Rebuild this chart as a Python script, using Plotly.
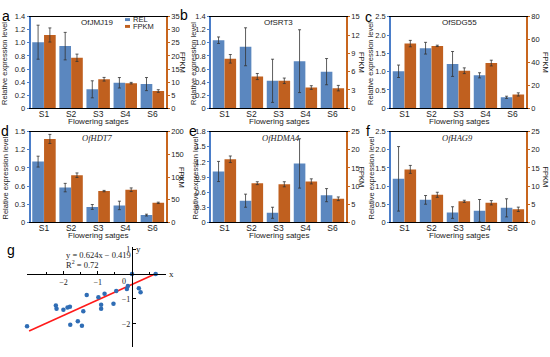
import plotly.graph_objects as go

W, H = 550, 357

# ---------------- data ----------------
stages = ["S1", "S2", "S3", "S4", "S6"]
genes = ["OfJMJ19", "OfSRT3", "OfSDG55", "OfHDT7", "OfHDMA4", "OfHAG9"]
panel_letters = ["a", "b", "c", "d", "e", "f"]

rel_JMJ19 = [1.01, 0.95, 0.29, 0.39, 0.37]
rel_JMJ19_err = [0.26, 0.21, 0.13, 0.08, 0.10]
fpkm_JMJ19 = [28.0, 19.3, 11.1, 9.6, 6.6]
fpkm_JMJ19_err = [2.7, 1.4, 0.7, 0.3, 0.5]

rel_SRT3 = [1.04, 0.94, 0.42, 0.72, 0.56]
rel_SRT3_err = [0.05, 0.29, 0.33, 0.48, 0.20]
fpkm_SRT3 = [8.1, 5.2, 4.5, 3.4, 3.3]
fpkm_SRT3_err = [0.7, 0.5, 0.45, 0.3, 0.45]

rel_SDG55 = [1.01, 1.64, 1.21, 0.90, 0.30]
rel_SDG55_err = [0.17, 0.16, 0.34, 0.07, 0.03]
fpkm_SDG55 = [56.5, 54.5, 32.8, 39.5, 12.1]
fpkm_SDG55_err = [2.8, 0.6, 2.5, 2.5, 1.4]

rel_HDT7 = [1.005, 0.575, 0.255, 0.28, 0.12]
rel_HDT7_err = [0.09, 0.07, 0.04, 0.07, 0.015]
fpkm_HDT7 = [184, 104, 69, 72, 43]
fpkm_HDT7_err = [10, 5, 1.5, 4, 1.5]

rel_HDMA4 = [1.01, 0.43, 0.19, 1.17, 0.54]
rel_HDMA4_err = [0.20, 0.13, 0.11, 0.49, 0.13]
fpkm_HDMA4 = [17.4, 10.8, 10.5, 11.3, 6.5]
fpkm_HDMA4_err = [0.9, 0.4, 0.7, 0.7, 0.5]

rel_HAG9 = [1.20, 0.62, 0.27, 0.32, 0.40]
rel_HAG9_err = [0.89, 0.12, 0.16, 0.31, 0.25]
fpkm_HAG9 = [14.6, 7.6, 5.8, 5.4, 3.6]
fpkm_HAG9_err = [1.1, 0.7, 0.3, 0.6, 0.6]

# tick labels
left_ticks_a = ["0", "0.2", "0.4", "0.6", "0.8", "1.0", "1.2", "1.4"]
left_ticks_b = ["0", "0.2", "0.4", "0.6", "0.8", "1.0", "1.2", "1.4"]
left_ticks_c = ["0", "0.5", "1.0", "1.5", "2.0", "2.5"]
left_ticks_d = ["0", "0.3", "0.6", "0.9", "1.2", "1.5"]
left_ticks_e = ["0", "0.3", "0.6", "0.9", "1.2", "1.5", "1.8"]
left_ticks_f = ["0", "0.5", "1.0", "1.5", "2.0", "2.5"]
right_ticks_a = [0, 5, 10, 15, 20, 25, 30, 35]
right_ticks_b = [0, 3, 6, 9, 12, 15]
right_ticks_c = [0, 20, 40, 60, 80]
right_ticks_d = [0, 50, 100, 150, 200]
right_ticks_e = [0, 5, 10, 15, 20, 25]
right_ticks_f = [0, 5, 10, 15, 20, 25]

# scatter panel g
sx = [-3.06, -2.22, -2.20, -2.00, -1.88, -1.81, -1.80, -1.58, -1.46, -1.42, -1.32,
      -0.98, -0.90, -0.90, -0.80, -0.54, -0.46, -0.15, -0.12, 0.0, 0.20, 0.25, 0.69]
sy = [-2.10, -1.27, -1.40, -1.44, -1.35, -1.32, -2.04, -1.90, -2.08, -1.50, -0.84,
      -0.93, -1.24, -1.40, -0.79, -1.20, -0.68, -0.60, -0.48, 0.0, -0.57, -0.73, 0.0]
fit_slope, fit_intercept = 0.624, -0.419
fit_x = [-3.0, 0.72]
scatter_xticks = [-2, -1, 1]
scatter_xticklabels = ["\u22122", "\u22121", "1"]
scatter_yticks = [1, -1, -2]
scatter_yticklabels = ["1", "\u22121", "\u22122"]

panels = [
    (rel_JMJ19, rel_JMJ19_err, fpkm_JMJ19, fpkm_JMJ19_err, left_ticks_a, right_ticks_a),
    (rel_SRT3, rel_SRT3_err, fpkm_SRT3, fpkm_SRT3_err, left_ticks_b, right_ticks_b),
    (rel_SDG55, rel_SDG55_err, fpkm_SDG55, fpkm_SDG55_err, left_ticks_c, right_ticks_c),
    (rel_HDT7, rel_HDT7_err, fpkm_HDT7, fpkm_HDT7_err, left_ticks_d, right_ticks_d),
    (rel_HDMA4, rel_HDMA4_err, fpkm_HDMA4, fpkm_HDMA4_err, left_ticks_e, right_ticks_e),
    (rel_HAG9, rel_HAG9_err, fpkm_HAG9, fpkm_HAG9_err, left_ticks_f, right_ticks_f),
]

# ---------------- styling ----------------
BLUE = "#5b87bf"
ORANGE = "#c0601f"
BLUE_AX = "#4a7dc9"
ORANGE_AX = "#c8661e"
SANS = "Liberation Sans, Arial, sans-serif"
SERIF = "Liberation Serif, Times New Roman, serif"
TXT = "#222222"


def fx(p):
    return p / W


def fy(p):
    return 1 - p / H


cols = [(30.5, 166), (211, 346), (391, 526)]
rows = [(13, 107), (131, 224)]
letter_pos = [(5.5, 12.5), (184, 11.5), (368, 13), (5, 130), (193, 130.5), (368, 130.5)]
title_xpos = [97, 278, 460, 97, 281, 457]
rel_label_x = [4.5, 193.5, 370.5, 4.5, 194.5, 370.5]
fpkm_label_x = [182.5, 361.5, 545.5, 182, 361.5, 545.5]

fig = go.Figure()
layout = dict(
    width=W, height=H, margin=dict(l=0, r=0, t=0, b=0),
    paper_bgcolor="white", plot_bgcolor="rgba(0,0,0,0)",
    barmode="overlay", showlegend=False,
    font=dict(family=SANS, color=TXT),
)
annotations = []
shapes = []

for k, (rel, rel_err, fp, fp_err, lticks, rticks) in enumerate(panels):
    c, r = cols[k % 3], rows[k // 3]
    xn = k + 1
    yl = 2 * k + 1
    yr = 2 * k + 2
    xid = "x" if xn == 1 else f"x{xn}"
    ylid = "y" if yl == 1 else f"y{yl}"
    yrid = f"y{yr}"
    xkey = "xaxis" if xn == 1 else f"xaxis{xn}"
    ylkey = "yaxis" if yl == 1 else f"yaxis{yl}"
    yrkey = f"yaxis{yr}"
    lvals = [float(t) for t in lticks]
    layout[xkey] = dict(
        domain=[fx(c[0]), fx(c[1])], anchor=ylid, type="category",
        categoryorder="array", categoryarray=stages, range=[-0.5, 4.5],
        showline=True, linecolor="black", linewidth=1.3, mirror=True,
        ticks="", ticklabelstandoff=-3, showgrid=False, zeroline=False,
        tickfont=dict(size=8.5, family=SANS, color=TXT),
    )
    layout[ylkey] = dict(
        domain=[fy(r[1]), fy(r[0])], anchor=xid, range=[0, lvals[-1]],
        tickvals=lvals, ticktext=lticks, ticks="outside", ticklen=2,
        tickcolor=BLUE_AX, showline=True, linecolor=BLUE_AX, linewidth=1.5,
        showgrid=False, zeroline=False,
        tickfont=dict(size=7.5, family=SANS, color=TXT),
    )
    layout[yrkey] = dict(
        domain=[fy(r[1]), fy(r[0])], anchor=xid, overlaying=ylid, side="right",
        range=[0, rticks[-1]], tickvals=rticks, ticks="outside", ticklen=2,
        tickcolor=ORANGE_AX, showline=True, linecolor=ORANGE_AX, linewidth=1.5,
        showgrid=False, zeroline=False,
        tickfont=dict(size=7.5, family=SANS, color=TXT),
    )
    fig.add_trace(go.Bar(
        x=stages, y=rel, xaxis=xid, yaxis=ylid, name="REL",
        marker=dict(color=BLUE, line=dict(width=0)), width=0.43, offset=-0.435,
        error_y=dict(type="data", array=rel_err, color="#333333", thickness=0.8, width=1.5),
    ))
    fig.add_trace(go.Bar(
        x=stages, y=fp, xaxis=xid, yaxis=yrid, name="FPKM",
        marker=dict(color=ORANGE, line=dict(width=0)), width=0.43, offset=0.0,
        error_y=dict(type="data", array=fp_err, color="#333333", thickness=0.8, width=1.5),
    ))
    cx = (c[0] + c[1]) / 2
    italic = k >= 3
    annotations.append(dict(
        x=fx(title_xpos[k]), y=fy(r[0] + 6), xref="paper", yref="paper",
        text=(f"<i>{genes[k]}</i>" if italic else genes[k]), showarrow=False,
        font=dict(size=8.5 if italic else 8, family=SERIF if italic else SANS, color=TXT),
        xanchor="center", yanchor="middle",
    ))
    annotations.append(dict(
        x=fx(cx), y=fy(r[1] + 13.5), xref="paper", yref="paper",
        text="Flowering satges", showarrow=False,
        font=dict(size=8, family=SANS, color=TXT), xanchor="center", yanchor="middle",
    ))
    annotations.append(dict(
        x=fx(rel_label_x[k]), y=fy((r[0] + r[1]) / 2 + 1), xref="paper", yref="paper",
        text="Relative expression level", showarrow=False, textangle=-90,
        font=dict(size=7.5, family=SANS, color=TXT), xanchor="center", yanchor="middle",
    ))
    annotations.append(dict(
        x=fx(fpkm_label_x[k]), y=fy((r[0] + r[1]) / 2), xref="paper", yref="paper",
        text="FPKM", showarrow=False, textangle=90,
        font=dict(size=7.5, family=SANS, color=TXT), xanchor="center", yanchor="middle",
    ))
    lx, ly = letter_pos[k]
    annotations.append(dict(
        x=fx(lx), y=fy(ly), xref="paper", yref="paper", text=panel_letters[k],
        showarrow=False, font=dict(size=14, family=SANS, color="black"),
        xanchor="center", yanchor="middle",
    ))

# legend (panel a)
shapes.append(dict(type="rect", xref="paper", yref="paper",
                   x0=fx(125), x1=fx(130), y0=fy(17.5), y1=fy(14.5),
                   fillcolor=BLUE, line=dict(width=0)))
shapes.append(dict(type="rect", xref="paper", yref="paper",
                   x0=fx(125), x1=fx(130), y0=fy(24.5), y1=fy(21.5),
                   fillcolor=ORANGE, line=dict(width=0)))
annotations.append(dict(x=fx(131), y=fy(16), xref="paper", yref="paper", text="REL",
                        showarrow=False, xanchor="left", yanchor="middle",
                        font=dict(size=7.5, family=SANS, color=TXT)))
annotations.append(dict(x=fx(131), y=fy(23), xref="paper", yref="paper", text="FPKM",
                        showarrow=False, xanchor="left", yanchor="middle",
                        font=dict(size=7.5, family=SANS, color=TXT)))

# ---------------- scatter panel g ----------------
x0px, ux = 132, 34.3
y0px, uy = 277, 25.5
gx = (27, 166)
gy = (249, 352)
layout["xaxis7"] = dict(
    domain=[fx(gx[0]), fx(gx[1])], anchor="free", position=fy(y0px),
    range=[(gx[0] - x0px) / ux, (gx[1] - x0px) / ux],
    tickvals=scatter_xticks, ticktext=scatter_xticklabels,
    ticks="inside", ticklen=3, tickcolor="black",
    minor=dict(tickvals=[-2.5, -1.5, -0.5, 0.5], ticks="inside", ticklen=2, tickcolor="black"),
    showline=True, linecolor="black", linewidth=1.2,
    showgrid=False, zeroline=False,
    tickfont=dict(size=8, family=SERIF, color=TXT),
)
layout["yaxis13"] = dict(
    domain=[fy(gy[1]), fy(gy[0])], anchor="free", position=fx(x0px),
    range=[-(gy[1] - y0px) / uy, (y0px - gy[0]) / uy],
    tickvals=scatter_yticks, ticktext=scatter_yticklabels,
    ticks="inside", ticklen=3, tickcolor="black",
    showline=True, linecolor="black", linewidth=1.2,
    showgrid=False, zeroline=False,
    tickfont=dict(size=8, family=SERIF, color=TXT),
)
fit_y = [fit_slope * v + fit_intercept for v in fit_x]
fig.add_trace(go.Scatter(
    x=fit_x, y=fit_y, xaxis="x7", yaxis="y13", mode="lines",
    line=dict(color="#ff1a1a", width=1.6), hoverinfo="skip",
))
fig.add_trace(go.Scatter(
    x=sx, y=sy, xaxis="x7", yaxis="y13", mode="markers", cliponaxis=False,
    marker=dict(color="#2f6db5", size=4.5),
))
annotations += [
    dict(x=-0.12, y=-0.05, xref="x7", yref="y13", text="0", showarrow=False,
         xanchor="right", yanchor="top", font=dict(size=8, family=SERIF, color=TXT)),
    dict(x=fx(171), y=fy(277), xref="paper", yref="paper", text="x", showarrow=False,
         xanchor="center", yanchor="middle", font=dict(size=9, family=SERIF, color=TXT)),
    dict(x=fx(138), y=fy(251), xref="paper", yref="paper", text="y", showarrow=False,
         xanchor="center", yanchor="middle", font=dict(size=9, family=SERIF, color=TXT)),
    dict(x=fx(64), y=fy(258), xref="paper", yref="paper",
         text="y = 0.624x \u2212 0.419", showarrow=False,
         xanchor="left", yanchor="middle", font=dict(size=8.5, family=SERIF, color=TXT)),
    dict(x=fx(64), y=fy(267.5), xref="paper", yref="paper",
         text="R<sup>2</sup> = 0.72", showarrow=False,
         xanchor="left", yanchor="middle", font=dict(size=8.5, family=SERIF, color=TXT)),
    dict(x=fx(11), y=fy(252), xref="paper", yref="paper", text="g", showarrow=False,
         xanchor="center", yanchor="middle", font=dict(size=14, family=SANS, color="black")),
]

layout["annotations"] = annotations
layout["shapes"] = shapes
fig.update_layout(**layout)
fig.write_html(
    "out.html",
    config={"displayModeBar": False},
    post_script="document.body.style.margin='0px';document.body.style.overflow='hidden';",
)
